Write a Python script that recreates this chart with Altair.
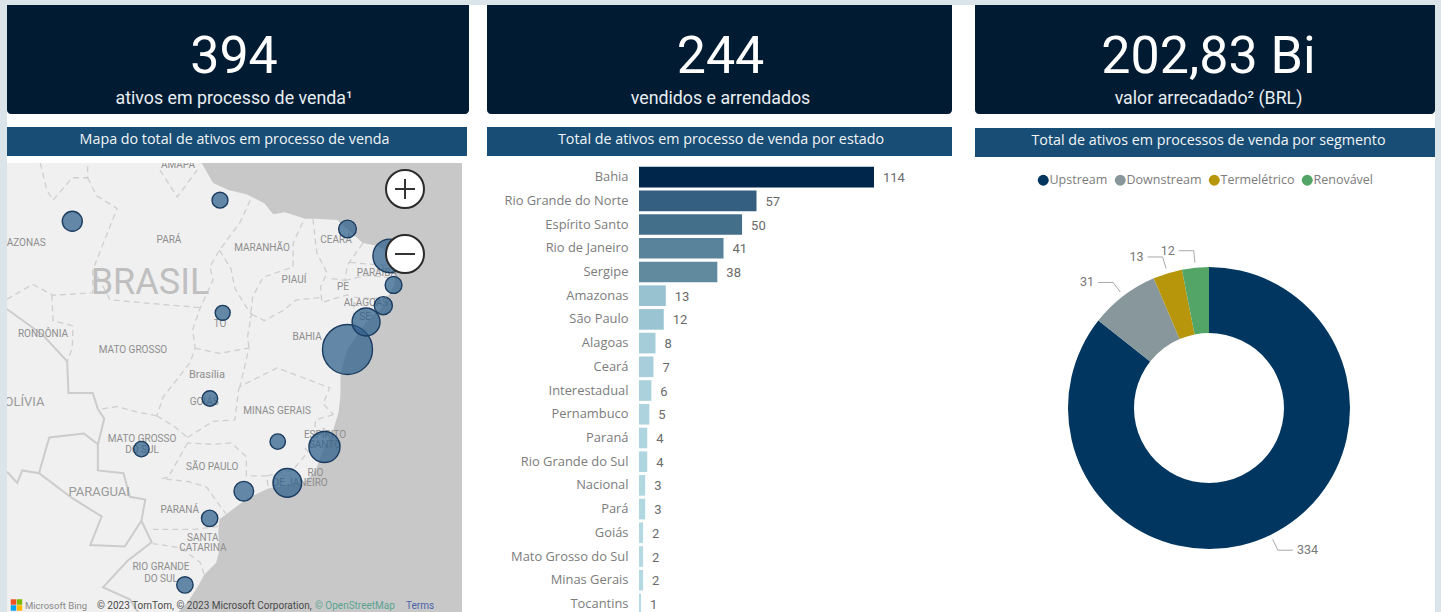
import math
import altair as alt

# ---- Headline figures ----
kpi_values = ["394", "244", "202,83 Bi"]
kpi_labels = ["ativos em processo de venda¹", "vendidos e arrendados", "valor arrecadado² (BRL)"]
panel_titles = [
    "Mapa do total de ativos em processo de venda",
    "Total de ativos em processo de venda por estado",
    "Total de ativos em processos de venda por segmento",
]

# ---- Assets by state ----
state_names = ["Bahia", "Rio Grande do Norte", "Espírito Santo", "Rio de Janeiro", "Sergipe", "Amazonas",
               "São Paulo", "Alagoas", "Ceará", "Interestadual", "Pernambuco", "Paraná", "Rio Grande do Sul",
               "Nacional", "Pará", "Goiás", "Mato Grosso do Sul", "Minas Gerais", "Tocantins"]
state_values = [114, 57, 50, 41, 38, 13, 12, 8, 7, 6, 5, 4, 4, 3, 3, 2, 2, 2, 1]
bar_stops = [1, 13, 38, 57, 114]
bar_colors = ["#b6dbe5", "#99c2d0", "#618a9f", "#345f80", "#00264c"]

# ---- Assets by segment ----
segment_names = ["Upstream", "Downstream", "Termelétrico", "Renovável"]
segment_values = [334, 31, 13, 12]
segment_colors = ["#003660", "#87979b", "#b8960c", "#53a567"]

# ---- Bubble locations (state capitals), lon / lat ----
bubble_states = ["Bahia", "Rio Grande do Norte", "Espírito Santo", "Rio de Janeiro", "Sergipe", "Amazonas",
                 "São Paulo", "Alagoas", "Ceará", "Pernambuco", "Paraná", "Rio Grande do Sul", "Pará",
                 "Goiás", "Mato Grosso do Sul", "Minas Gerais", "Tocantins"]
bubble_lon = [-38.5, -35.2, -40.3, -43.2, -37.05, -60.0, -46.6, -35.7, -38.5, -34.9, -49.27, -51.2, -48.46,
              -49.25, -54.6, -43.95, -48.25]
bubble_lat = [-13.0, -5.8, -20.3, -22.9, -10.9, -3.1, -23.5, -9.65, -3.7, -8.05, -25.43, -30.03, -1.45,
              -16.7, -20.45, -19.9, -10.2]
bubble_stops = [1, 13, 50, 114]
bubble_areas = [225, 400, 961, 2500]

# ---- Map geometry, lon / lat ----
ocean_ring = [[-50.3, 6], [-24, 6], [-24, -36], [-53, -36], [-52.1, -32.2], [-50.9, -31.1], [-50.1, -30.0],
              [-49.7, -29.35], [-48.75, -28.5], [-48.5, -27.6], [-48.6, -26.4], [-48.5, -25.5], [-46.3, -24.0],
              [-44.7, -23.3], [-43.2, -23.05], [-42.0, -23.0], [-41.0, -22.0], [-40.3, -20.3], [-39.7, -19.3],
              [-39.2, -17.75], [-39.05, -16.45], [-39.05, -14.8], [-38.5, -13.0], [-37.05, -10.95], [-35.7, -9.65],
              [-34.85, -8.05], [-34.8, -7.15], [-35.2, -5.5], [-36.2, -5.0], [-37.3, -4.8], [-38.5, -3.7],
              [-39.3, -3.0], [-41.0, -2.9], [-41.8, -2.9], [-43.4, -2.4], [-44.3, -2.55], [-45.0, -1.7],
              [-46.35, -1.0], [-47.8, -0.65], [-49.0, -0.1], [-49.9, 1.45], [-50.3, 6]]

country_borders = [
    [[-65.4, -9.7], [-62.3, -11.9], [-60.4, -13.9], [-60.3, -16.3], [-58.4, -16.3], [-58, -17.5], [-57.5, -18.2],
     [-58, -20.1], [-58, -22], [-56, -22.2], [-55.5, -23.9], [-54.3, -24.1], [-54.6, -25.6], [-53.8, -27.1],
     [-55.7, -28.4], [-57.6, -30.2], [-55.5, -31], [-53.5, -33.7]],
    [[-58, -20.1], [-59.1, -19.3], [-61.8, -19.6], [-62.6, -22.2], [-60, -24], [-57.7, -25.3], [-58.6, -27.3],
     [-55.9, -27.4], [-54.6, -25.6]],
    [[-65.1, -22.1], [-64.3, -22.9], [-63.9, -22.0], [-62.6, -22.2]],
]

state_borders = [
    [[-62.5, 1.45], [-62, -0.65], [-61.5, -1.45], [-60, 0.3], [-58.8, 0.3], [-58.8, 1.45]],
    [[-58.8, 0.3], [-58.1, -1.1], [-56.5, -2.1], [-58.4, -6.9], [-58.4, -8.65], [-61.5, -8.85], [-63.1, -8.0], [-65.1, -9.15]],
    [[-61.6, -8.85], [-61.5, -10.8], [-59.95, -11.2], [-60, -12.9], [-60.4, -13.9]],
    [[-58.0, -7.4], [-57.05, -9.2], [-54.15, -9.45], [-50, -9.8]],
    [[-46.1, -1.45], [-46.9, -3.2], [-48.5, -5.35], [-49.25, -6.65], [-49, -7.65], [-50, -9.8], [-50.6, -11.5],
     [-50.4, -12.9], [-50.8, -14], [-52.9, -16.6], [-53.4, -18]],
    [[-48.5, -5.35], [-47.6, -6.8], [-47.3, -8.3], [-46.5, -9.6], [-46, -10.3], [-46.3, -12], [-46.2, -12.9]],
    [[-50.4, -12.9], [-48.5, -13.3], [-46.2, -12.9], [-46.9, -15.8], [-44, -14.4], [-41.4, -15.35], [-39.9, -15.9],
     [-40.4, -17.1], [-39.6, -17.9]],
    [[-42, -3.2], [-42.75, -4.8], [-42.75, -6.65], [-45.1, -7.45], [-45.9, -8.95], [-46.1, -10.6]],
    [[-41.2, -2.9], [-40.9, -5.55], [-40.1, -7.1], [-40.6, -8.2], [-40.5, -9.4], [-38.5, -8.8], [-38.2, -9.3]],
    [[-46, -10.3], [-45, -10.8], [-43.5, -10], [-42.5, -9.2], [-40.5, -9.0]],
    [[-37.3, -4.8], [-38.5, -6.5], [-38.7, -7.7], [-40.1, -7.5]],
    [[-38.3, -6.3], [-36, -6.5], [-35, -6.5]],
    [[-38.7, -7.7], [-37, -7.3], [-35, -7.5]],
    [[-38, -9], [-36.5, -9.1], [-35.2, -8.9]],
    [[-38, -9.4], [-36.4, -10.5]],
    [[-38, -9.4], [-38, -11], [-37.5, -11.6]],
    [[-39.6, -17.9], [-41, -18.3], [-41.1, -19.7], [-41.8, -20.4], [-41, -21.2]],
    [[-41.8, -20.9], [-42.8, -22], [-44.8, -22.4], [-44.7, -23.3]],
    [[-44.8, -22.4], [-46.4, -22.4], [-46.4, -21], [-47.6, -20], [-49, -20.1], [-51, -20]],
    [[-51, -19.6], [-49, -18.4], [-47.3, -18.3], [-47, -16], [-46.9, -15.8]],
    [[-51, -20], [-52.5, -22.5], [-53, -22.6], [-51, -22.8], [-49.5, -23.2], [-48.5, -24.5], [-48, -25.1]],
    [[-48.6, -26], [-50.5, -26.2], [-53.7, -26.2]],
    [[-49.7, -29.3], [-50, -28.5], [-51.5, -27.5], [-53.7, -27.2]],
    [[-53.4, -18], [-55, -17.7], [-56.5, -17.3], [-57.8, -17.5]],
    [[-53.4, -18], [-52, -18.8], [-51, -19.6]],
    [[-53.15, 0.9], [-51.8, -1.2], [-50.25, 0.9]],
]

# ---- Place names ----
state_label_names = ["AMAPÁ", "AMAZONAS", "PARÁ", "MARANHÃO", "CEARÁ", "PIAUÍ", "PE", "PARAÍBA", "ALAGOAS", "SE", "TO",
                     "BAHIA", "RONDÔNIA", "MATO GROSSO", "GOIÁS", "MINAS GERAIS", "ESPÍRITO", "SANTO", "MATO GROSSO",
                     "DO SUL", "SÃO PAULO", "RIO", "DE JANEIRO", "PARANÁ", "SANTA", "CATARINA", "RIO GRANDE", "DO SUL"]
state_label_lon = [-51.74, -64.2, -52.45, -45.18, -39.4, -42.68, -38.85, -36.2, -37.05, -37.13, -48.46, -41.66, -62.29,
                   -55.26, -49.7, -44.0, -40.26, -40.26, -54.55, -54.55, -49.07, -41.0, -42.2, -51.6, -49.8, -49.8,
                   -53.07, -53.07]
state_label_lat = [1.3, -4.79, -4.56, -5.18, -4.56, -7.67, -8.2, -7.12, -9.44, -10.52, -11.05, -12.05, -11.82, -13.04,
                   -16.96, -17.64, -19.41, -20.15, -19.7, -20.5, -21.75, -22.2, -22.9, -24.85, -26.8, -27.5, -28.8, -29.6]
country_label_names = ["BOLÍVIA", "PARAGUAI"]
country_label_lon = [-64.05, -57.9]
country_label_lat = [-16.96, -23.55]

# Mercator frame of the map panel
MAP_W, MAP_H = 455, 449
projection = dict(type="mercator", scale=733.4, translate=[833.3, 18.6])
TEXT_FONT = "Open Sans"
NUM_FONT = "Roboto"


def line_features(lines):
    return [{"type": "Feature", "properties": {}, "geometry": {"type": "LineString", "coordinates": c}} for c in lines]


def blank(w, h, fill="white"):
    """A filled cell used for gutters and page strips."""
    return (alt.Chart(alt.Data(values=[{"t": ""}])).mark_rect(fill=fill)
            .encode(x=alt.value(0), x2=alt.value(w), y=alt.value(0), y2=alt.value(h))
            .properties(width=w, height=h))


def kpi_card(i, w, cx):
    data = alt.Data(values=[{"value": kpi_values[i], "label": kpi_labels[i]}])
    base = alt.Chart(data)
    card = base.mark_rect(fill="#011b32", cornerRadiusBottomLeft=4, cornerRadiusBottomRight=4).encode(
        x=alt.value(0), x2=alt.value(w), y=alt.value(0), y2=alt.value(109))
    big = base.mark_text(font=NUM_FONT, fontSize=52, color="white", baseline="alphabetic").encode(
        text="value:N", x=alt.value(cx), y=alt.value(68))
    small = base.mark_text(font=NUM_FONT, fontSize=17.8, color="#e8eef2", baseline="alphabetic").encode(
        text="label:N", x=alt.value(cx), y=alt.value(99))
    return alt.layer(card, big, small).properties(width=w, height=109)


def header(i, w, cx):
    base = alt.Chart(alt.Data(values=[{"title": panel_titles[i]}]))
    bar = base.mark_rect(fill="#184d75").encode(x=alt.value(0), x2=alt.value(w), y=alt.value(0), y2=alt.value(29))
    txt = base.mark_text(font=TEXT_FONT, fontSize=14.3, color="#f2f5f7", baseline="alphabetic").encode(
        text="title:N", x=alt.value(cx), y=alt.value(17))
    return alt.layer(bar, txt).properties(width=w, height=29)


# ---- Map panel ----
def map_panel():
    def geo(c):
        return c.project(**projection)

    ocean = geo(alt.Chart(alt.Data(values=[{"type": "Feature", "properties": {},
                                            "geometry": {"type": "Polygon", "coordinates": [ocean_ring]}}]))
                .mark_geoshape(fill="#c8c8c8", strokeWidth=0, clip=True))
    states = geo(alt.Chart(alt.Data(values=line_features(state_borders)))
                 .mark_geoshape(filled=False, stroke="#cfcfcf", strokeWidth=1.3, strokeDash=[6, 4], clip=True))
    countries = geo(alt.Chart(alt.Data(values=line_features(country_borders)))
                    .mark_geoshape(filled=False, stroke="#cccccc", strokeWidth=2, clip=True))

    state_rows = [{"n": n, "lon": a, "lat": b} for n, a, b in zip(state_label_names, state_label_lon, state_label_lat)]
    country_rows = [{"n": n, "lon": a, "lat": b} for n, a, b in zip(country_label_names, country_label_lon, country_label_lat)]
    state_text = geo(alt.Chart(alt.Data(values=state_rows)).mark_text(
        font=NUM_FONT, fontSize=10, color="#8e8e8e", clip=True).encode(
        longitude="lon:Q", latitude="lat:Q", text="n:N"))
    country_text = geo(alt.Chart(alt.Data(values=country_rows)).mark_text(
        font=NUM_FONT, fontSize=13, color="#9a9a9a", clip=True).encode(
        longitude="lon:Q", latitude="lat:Q", text="n:N"))
    brasil = geo(alt.Chart(alt.Data(values=[{"n": "BRASIL", "lon": -53.93, "lat": -7.9}])).mark_text(
        font=NUM_FONT, fontSize=36, color="#bfbfbf", clip=True).encode(
        longitude="lon:Q", latitude="lat:Q", text="n:N"))
    capital = geo(alt.Chart(alt.Data(values=[{"n": "Brasília", "lon": -49.48, "lat": -14.94}])).mark_text(
        font=NUM_FONT, fontSize=11, color="#8e8e8e").encode(
        longitude="lon:Q", latitude="lat:Q", text="n:N"))

    value_of = dict(zip(state_names, state_values))
    bubble_rows = [{"state": s, "value": value_of[s], "lon": a, "lat": b}
                   for s, a, b in zip(bubble_states, bubble_lon, bubble_lat)]
    bubbles = geo(alt.Chart(alt.Data(values=bubble_rows)).mark_circle(
        fill="#2c5e89", fillOpacity=0.72, stroke="#1b3c60", strokeWidth=1.4, opacity=1).encode(
        longitude="lon:Q", latitude="lat:Q",
        size=alt.Size("value:Q", scale=alt.Scale(domain=bubble_stops, range=bubble_areas), legend=None)))

    one = alt.Chart(alt.Data(values=[{"t": ""}]))
    buttons = []
    for cy, path in ((26, "M-1,0H1M0,-1V1"), (91, "M-1,0H1")):
        buttons.append(one.mark_point(shape="circle", size=1444, fill="white", fillOpacity=1, filled=True,
                                      stroke="#2b2b2b", strokeWidth=2).encode(x=alt.value(398), y=alt.value(cy)))
        buttons.append(one.mark_point(shape=path, size=400, stroke="#333333", strokeWidth=2, filled=False, opacity=1)
                       .encode(x=alt.value(398), y=alt.value(cy)))

    logo = []
    for (lx, ly), col in zip(((6.5, 439), (12.5, 439), (6.5, 445), (12.5, 445)),
                             ("#f25022", "#7fba00", "#00a4ef", "#ffb900")):
        logo.append(one.mark_square(size=30, color=col, opacity=1).encode(x=alt.value(lx), y=alt.value(ly)))

    credits = []
    for txt, lx, col, fs in (("Microsoft Bing", 18, "#8a8a8a", 9.5),
                             ("© 2023 TomTom, © 2023 Microsoft Corporation,", 90, "#4a4a4a", 10),
                             ("© OpenStreetMap", 308, "#5aa392", 10),
                             ("Terms", 399, "#4a62a8", 10)):
        credits.append(alt.Chart(alt.Data(values=[{"t": txt}])).mark_text(
            font=NUM_FONT, fontSize=fs, color=col, align="left", baseline="alphabetic").encode(
            text="t:N", x=alt.value(lx), y=alt.value(446)))

    return alt.layer(ocean, states, countries, state_text, country_text, brasil, capital, bubbles,
                     *buttons, *logo, *credits).properties(
        width=MAP_W, height=MAP_H, view=alt.ViewBackground(fill="#f0f0f0", strokeWidth=0))


# ---- Ranked bars ----
def bar_panel():
    rows = [{"state": s, "value": v} for s, v in zip(state_names, state_values)]
    x = alt.X("value:Q", scale=alt.Scale(domain=[0, 114], range=[152, 387]), axis=None)
    y = alt.Y("state:N", scale=alt.Scale(domain=state_names, range=[9.8, 457.25], paddingInner=0.13, paddingOuter=0),
              axis=alt.Axis(title=None, orient="left", offset=-141, domain=False, ticks=False, labelPadding=0,
                            labelFont=TEXT_FONT, labelFontSize=12.9, labelColor="#7c7c7c", labelLimit=200))
    base = alt.Chart(alt.Data(values=rows))
    bars = base.mark_bar(clip=True).encode(
        x=x, y=y,
        color=alt.Color("value:Q", scale=alt.Scale(domain=bar_stops, range=bar_colors), legend=None))
    labels = base.mark_text(font=NUM_FONT, fontSize=13, color="#6a6a6a", align="left", dx=9, dy=1).encode(
        x=x, y=y, text="value:Q")
    return alt.layer(bars, labels).properties(width=465, height=455)


# ---- Donut by segment ----
def donut_panel():
    total = sum(segment_values)
    slices = [{"segment": s, "value": v, "rank": i} for i, (s, v) in enumerate(zip(segment_names, segment_values))]

    # Leader lines follow each slice's mid-angle, measured from the donut centre
    leader_rows, label_rows = [], []
    run = 0
    for s, v in zip(segment_names, segment_values):
        mid = 2 * math.pi * (run + v / 2) / total
        run += v
        sn, cs = math.sin(mid), -math.cos(mid)
        side = 1 if sn > 0 else -1
        ex, ey = 158 * sn, 158 * cs
        tail = ex + side * 15
        for k, (px, py) in enumerate(((146 * sn, 146 * cs), (ex, ey), (tail, ey))):
            leader_rows.append({"segment": s, "k": k, "px": px, "py": py})
        label_rows.append({"value": v, "px": tail, "py": ey, "side": side})

    xs = alt.Scale(domain=[-234, 226], range=[0, 460])
    ys = alt.Scale(domain=[-251, 204], range=[0, 455])
    arc = alt.Chart(alt.Data(values=slices)).mark_arc(innerRadius=75, outerRadius=141).encode(
        theta=alt.Theta("value:Q", stack=True),
        order=alt.Order("rank:Q"),
        x=alt.value(234), y=alt.value(251),
        color=alt.Color("segment:N", scale=alt.Scale(domain=segment_names, range=segment_colors),
                        legend=alt.Legend(orient="none", direction="horizontal", legendX=62, legendY=169, title=None,
                                          symbolType="circle", symbolSize=120, symbolStrokeWidth=0,
                                          labelFont=TEXT_FONT, labelFontSize=12.5, labelColor="#7c7c7c",
                                          columnPadding=6, labelOffset=0, padding=0, gridAlign="none")))
    leaders = alt.Chart(alt.Data(values=leader_rows)).mark_line(color="#a9a9a9", strokeWidth=1, interpolate="linear").encode(
        x=alt.X("px:Q", scale=xs, axis=None), y=alt.Y("py:Q", scale=ys, axis=None),
        detail="segment:N", order="k:Q")
    label_base = alt.Chart(alt.Data(values=label_rows))
    right = label_base.transform_filter("datum.side > 0").mark_text(
        font=NUM_FONT, fontSize=12.5, color="#777777", align="left", dx=4).encode(
        x=alt.X("px:Q", scale=xs, axis=None), y=alt.Y("py:Q", scale=ys, axis=None), text="value:Q")
    left = label_base.transform_filter("datum.side < 0").mark_text(
        font=NUM_FONT, fontSize=12.5, color="#777777", align="right", dx=-4).encode(
        x=alt.X("px:Q", scale=xs, axis=None), y=alt.Y("py:Q", scale=ys, axis=None), text="value:Q")
    return alt.layer(leaders, arc, left, right).properties(width=460, height=455)


col1 = alt.vconcat(kpi_card(0, 462, 227), blank(462, 13), header(0, 460, 227.5), blank(462, 7), map_panel(), spacing=0)
col2 = alt.vconcat(kpi_card(1, 465, 233.5), blank(465, 13), header(1, 465, 234), blank(465, 1), bar_panel(), spacing=0)
col3 = alt.vconcat(kpi_card(2, 460, 233.5), blank(460, 14), header(2, 460, 233.5), donut_panel(), spacing=0)

body = alt.hconcat(col1, blank(18, 600), col2, blank(23, 600), col3, spacing=0)
middle = alt.vconcat(blank(1428, 5, "#dbe5e9"), body, spacing=0)

chart = (alt.hconcat(blank(7, 612, "#dbe5e9"), middle, blank(6, 612, "#dbe5e9"), spacing=0)
         .properties(padding=0, background="white")
         .configure_view(stroke=None)
         .resolve_scale(color="independent"))

chart.save("out.html", embed_options={"renderer": "svg", "actions": False})
